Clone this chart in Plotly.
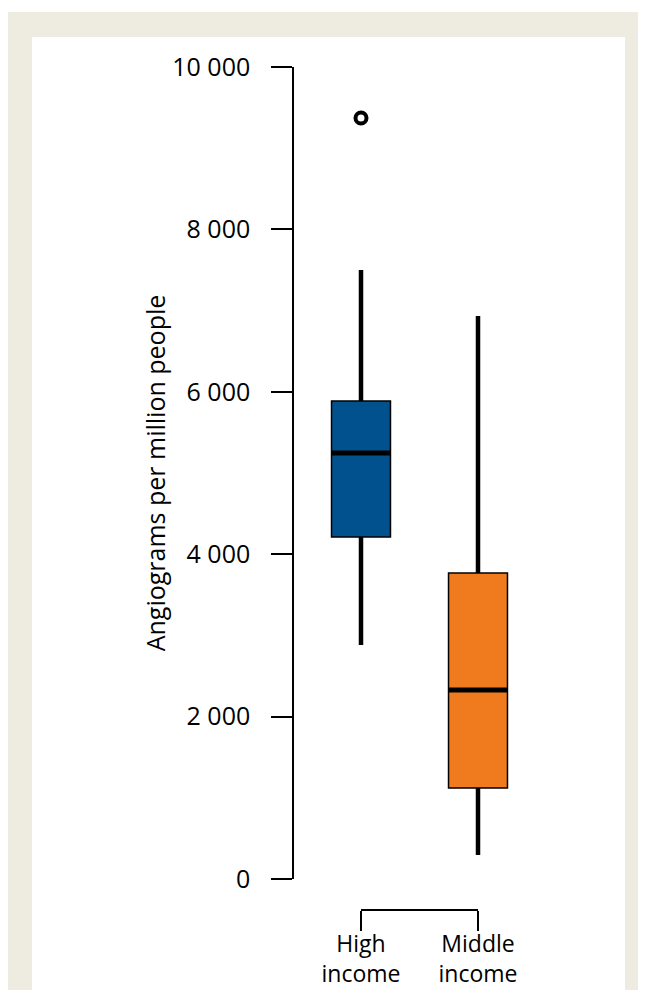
import plotly.graph_objects as go

# groups and box statistics (angiograms per million people)
groups = ["High<br>income", "Middle<br>income"]
q1 = [4212, 1121]
median = [5246, 2328]
q3 = [5887, 3768]
lower_whisker = [2882, 296]
upper_whisker = [7500, 6933]
outlier_group = [0]
outlier_value = [9372]

colors = ["#02518f", "#ef7b1e"]
box_w = 0.504

# page is 646 x 990, the html body adds an 8 px margin around the figure
OFF = 8
W, H = 646 - OFF, 990 - OFF
ML, MR, MT, MB = 294 - OFF, 86, 67 - OFF, 80
PW, PH = W - ML - MR, H - MT - MB
X0_PX, X1_PX = 361, 478  # page pixels of the two group centres
UNIT = X1_PX - X0_PX


def px_x(p):
    return (p - OFF - ML) / PW


def px_y(p):
    return (H - MB - (p - OFF)) / PH


fig = go.Figure()

for i, g in enumerate(groups):
    fig.add_trace(go.Box(
        x=[i], q1=[q1[i]], median=[median[i]], q3=[q3[i]],
        lowerfence=[lower_whisker[i]], upperfence=[upper_whisker[i]],
        width=box_w, whiskerwidth=0, fillcolor=colors[i],
        line=dict(color="black", width=1.5), boxpoints=False,
        hoverinfo="skip", showlegend=False,
    ))
    # thick whiskers
    fig.add_trace(go.Scatter(
        x=[i, i, None, i, i],
        y=[lower_whisker[i], q1[i], None, q3[i], upper_whisker[i]],
        mode="lines", line=dict(color="black", width=4.5),
        hoverinfo="skip", showlegend=False,
    ))
    # thick median
    fig.add_trace(go.Scatter(
        x=[i - box_w / 2, i + box_w / 2], y=[median[i], median[i]],
        mode="lines", line=dict(color="black", width=5),
        hoverinfo="skip", showlegend=False,
    ))

fig.add_trace(go.Scatter(
    x=outlier_group, y=outlier_value, mode="markers",
    marker=dict(symbol="circle-open", size=11, color="black",
                line=dict(color="black", width=4)),
    hoverinfo="skip", showlegend=False,
))

# invisible trace so the bracket axis (x2) gets drawn
fig.add_trace(go.Scatter(
    x=list(range(len(groups))), y=median, xaxis="x2", yaxis="y",
    mode="markers", marker=dict(opacity=0), hoverinfo="skip", showlegend=False,
))

fig.update_layout(
    width=W, height=H,
    margin=dict(l=ML, r=MR, t=MT, b=MB, autoexpand=False),
    paper_bgcolor="white", plot_bgcolor="rgba(0,0,0,0)",
    separators=". ",
    font=dict(family="Open Sans", size=25, color="black"),
    xaxis=dict(range=[(ML + OFF - X0_PX) / UNIT, (W - MR + OFF - X0_PX) / UNIT],
               visible=False, domain=[0, 1], automargin=False),
    xaxis2=dict(domain=[px_x(X0_PX), px_x(X1_PX)], range=[0, 1], anchor="free",
                position=0, showline=True, linecolor="black", linewidth=1.5,
                ticks="outside", ticklen=20, tickwidth=1.5, tickcolor="black",
                tickvals=list(range(len(groups))), ticktext=groups,
                showgrid=False, zeroline=False, ticklabelstandoff=-6,
                automargin=False, tickfont=dict(size=23)),
    yaxis=dict(domain=[px_y(879), 1], range=[0, 10000], dtick=2000,
               tickformat=",d", showgrid=False, zeroline=False,
               showline=True, linecolor="black", linewidth=1.5,
               ticks="outside", ticklen=21, tickwidth=1.5, tickcolor="black",
               ticklabelstandoff=16, tickfont=dict(size=25), automargin=False,
               title=dict(text="Angiograms per million people",
                          font=dict(size=25), standoff=0)),
    shapes=[
        dict(type="rect", xref="paper", yref="paper", layer="below",
             x0=px_x(7), x1=px_x(646), y0=px_y(12), y1=px_y(990),
             fillcolor="#eeebe0", line=dict(width=0)),
        dict(type="rect", xref="paper", yref="paper", layer="below",
             x0=px_x(32), x1=px_x(625), y0=px_y(37), y1=px_y(990),
             fillcolor="white", line=dict(width=0)),
    ],
)

fig.write_html("out.html")
